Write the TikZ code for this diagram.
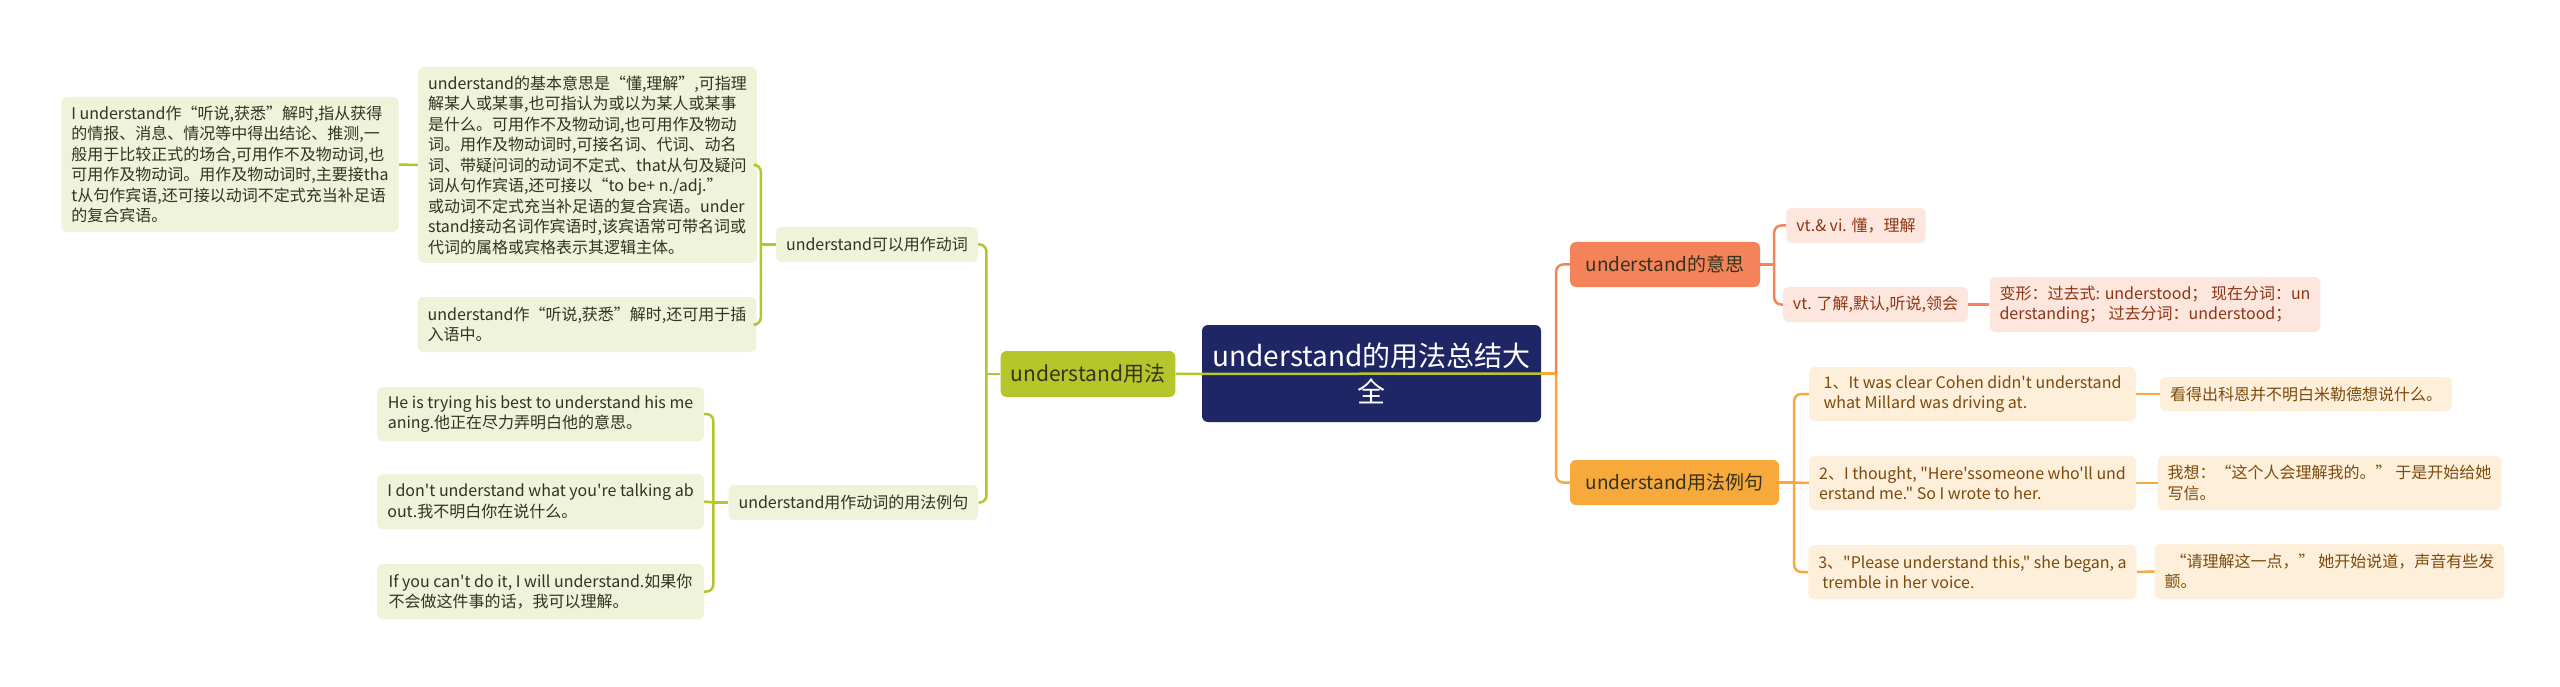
\documentclass[tikz,border=0pt]{standalone}
\usepackage{fontspec}
\setmainfont{Noto Sans CJK SC}[Ligatures=TeXOff]
\definecolor{navy}{HTML}{1F2666}
\definecolor{lime}{HTML}{B5C62B}
\definecolor{limepale}{HTML}{EFF3DA}
\definecolor{limetext}{HTML}{33331F}
\definecolor{coral}{HTML}{F5835A}
\definecolor{coralpale}{HTML}{FDE6DD}
\definecolor{coraltext}{HTML}{8C3614}
\definecolor{amber}{HTML}{F8A93C}
\definecolor{amberpale}{HTML}{FDEFDA}
\definecolor{ambertext}{HTML}{7C4A0C}
\begin{document}
\begin{tikzpicture}[
        x=1pt, y=-1pt,
        box/.style = {rounded corners=6pt, inner xsep=10pt, inner ysep=2pt, align=left},
        small/.style = {font=\fontsize{16}{20.5}\selectfont},
        root/.style = {box, fill=navy, text=white, align=center,
            font=\fontsize{28}{36}\selectfont, minimum width=339pt, minimum height=97pt},
        gmain/.style = {box, fill=lime, text=limetext, font=\fontsize{21}{26}\selectfont},
        gsub/.style = {box, small, fill=limepale, text=limetext},
        cmain/.style = {box, fill=coral, text=limetext, font=\fontsize{19}{24}\selectfont},
        csub/.style = {box, small, fill=coralpale, text=coraltext},
        omain/.style = {box, fill=amber, text=limetext, font=\fontsize{19}{24}\selectfont},
        osub/.style = {box, small, fill=amberpale, text=ambertext},
        gline/.style = {draw=lime, line width=2.5pt},
        cline/.style = {draw=coral, line width=2.5pt},
        oline/.style = {draw=amber, line width=2.5pt}
    ]
    \useasboundingbox (0,0) rectangle (2560,687);
    \fill[white] (0,0) rectangle (2560,687);

    % centre
    \node[root] (root) at (1371.5,373.5) {understand的用法总结大\\全};

    % left branch
    \node[gmain, minimum width=170pt, minimum height=46pt] (guse) at (1088,374) {understand用法};
    \node[gsub, minimum width=194pt, minimum height=35pt] (gverb) at (877,244.5) {understand可以用作动词};
    \node[gsub, minimum width=241pt, minimum height=35pt] (gex) at (853.5,502.5) {understand用作动词的用法例句};
    \node[gsub, minimum width=329pt, minimum height=196pt] (gb) at (587.5,165) {understand的基本意思是“懂,理解”,可指理\\解某人或某事,也可指认为或以为某人或某事\\是什么。可用作不及物动词,也可用作及物动\\词。用作及物动词时,可接名词、代词、动名\\词、带疑问词的动词不定式、that从句及疑问\\词从句作宾语,还可接以“to be+ n./adj.”\\或动词不定式充当补足语的复合宾语。under\\stand接动名词作宾语时,该宾语常可带名词或\\代词的属格或宾格表示其逻辑主体。};
    \node[gsub, minimum width=326pt, minimum height=135pt] (ga) at (230,164.5) {I understand作“听说,获悉”解时,指从获得\\的情报、消息、情况等中得出结论、推测,一\\般用于比较正式的场合,可用作不及物动词,也\\可用作及物动词。用作及物动词时,主要接tha\\t从句作宾语,还可接以动词不定式充当补足语\\的复合宾语。};
    \node[gsub, minimum width=328pt, minimum height=55pt] (gc) at (587,324.5) {understand作“听说,获悉”解时,还可用于插\\入语中。};
    \node[gsub, minimum width=327pt, minimum height=54pt] (ge1) at (540.5,414) {He is trying his best to understand his me\\aning.他正在尽力弄明白他的意思。};
    \node[gsub, minimum width=327pt, minimum height=55pt] (ge2) at (540.5,501.5) {I don't understand what you're talking ab\\out.我不明白你在说什么。};
    \node[gsub, minimum width=327pt, minimum height=55pt] (ge3) at (540.5,591.5) {If you can't do it, I will understand.如果你\\不会做这件事的话，我可以理解。};

    % right branch, meaning
    \node[cmain, minimum width=190pt, minimum height=45pt] (cmean) at (1665,264.5) {understand的意思};
    \node[csub, minimum width=134pt, minimum height=35pt] (c1) at (1856,225.5) {vt.\& vi. 懂，理解};
    \node[csub, minimum width=173pt, minimum height=35pt] (c2) at (1875.5,304.5) {vt. 了解,默认,听说,领会};
    \node[csub, minimum width=326pt, minimum height=55pt] (c3) at (2155,304.5) {变形：过去式: understood； 现在分词：un\\derstanding； 过去分词：understood；};

    % right branch, examples
    \node[omain, minimum width=209pt, minimum height=45pt] (oex) at (1674.5,482.5) {understand用法例句};
    \node[osub, minimum width=327pt, minimum height=54pt] (s1) at (1972.5,394) {1、It was clear Cohen didn't understand\\what Millard was driving at.};
    \node[osub, minimum width=327pt, minimum height=54pt] (s2) at (1972.5,483) {2、I thought, "Here'ssomeone who'll und\\erstand me." So I wrote to her.};
    \node[osub, minimum width=327pt, minimum height=54pt] (s3) at (1972.5,572) {3、"Please understand this," she began, a\\\hspace*{4pt}tremble in her voice.};
    \node[osub, minimum width=280pt, minimum height=34pt] (t1) at (2306,394) {看得出科恩并不明白米勒德想说什么。};
    \node[osub, minimum width=327pt, minimum height=54pt] (t2) at (2329.5,483) {我想：“这个人会理解我的。” 于是开始给她\\写信。};
    \node[osub, minimum width=327pt, minimum height=55pt] (t3) at (2329.5,571.5) {\hspace*{6pt}“请理解这一点，” 她开始说道，声音有些发\\颤。};

    % connectors, left
    \draw[gline] (root.east) -- (guse.east);
    \draw[gline] (guse.west) -- ++(-14,0) coordinate (gj);
    \draw[gline, rounded corners=7pt] (gj) |- (gverb.east);
    \draw[gline, rounded corners=7pt] (gj) |- (gex.east);
    \draw[gline] (gverb.west) -- ++(-15,0) coordinate (gvj);
    \draw[gline, rounded corners=7pt] (gvj) |- (gb.east);
    \draw[gline, rounded corners=7pt] (gvj) |- (gc.east);
    \draw[gline] (gb.west) -- (ga.east);
    \draw[gline] (gex.west) -- ++(-15,0) coordinate (gej);
    \draw[gline, rounded corners=7pt] (gej) |- (ge1.east);
    \draw[gline] (gej) -- (ge2.east);
    \draw[gline, rounded corners=7pt] (gej) |- (ge3.east);

    % connectors, right
    \draw[oline] (root.east) -- ++(15,0) coordinate (rj);
    \draw[cline, rounded corners=7pt] (rj) |- (cmean.west);
    \draw[oline, rounded corners=7pt] (rj) |- (oex.west);
    \draw[cline] (cmean.east) -- ++(14,0) coordinate (cj);
    \draw[cline, rounded corners=7pt] (cj) |- (c1.west);
    \draw[cline, rounded corners=7pt] (cj) |- (c2.west);
    \draw[cline] (c2.east) -- (c3.west);
    \draw[oline] (oex.east) -- ++(15,0) coordinate (oj);
    \draw[oline, rounded corners=7pt] (oj) |- (s1.west);
    \draw[oline] (oj) -- (s2.west);
    \draw[oline, rounded corners=7pt] (oj) |- (s3.west);
    \draw[oline] (s1.east) -- (t1.west);
    \draw[oline] (s2.east) -- (t2.west);
    \draw[oline] (s3.east) -- (t3.west);
\end{tikzpicture}
\end{document}
